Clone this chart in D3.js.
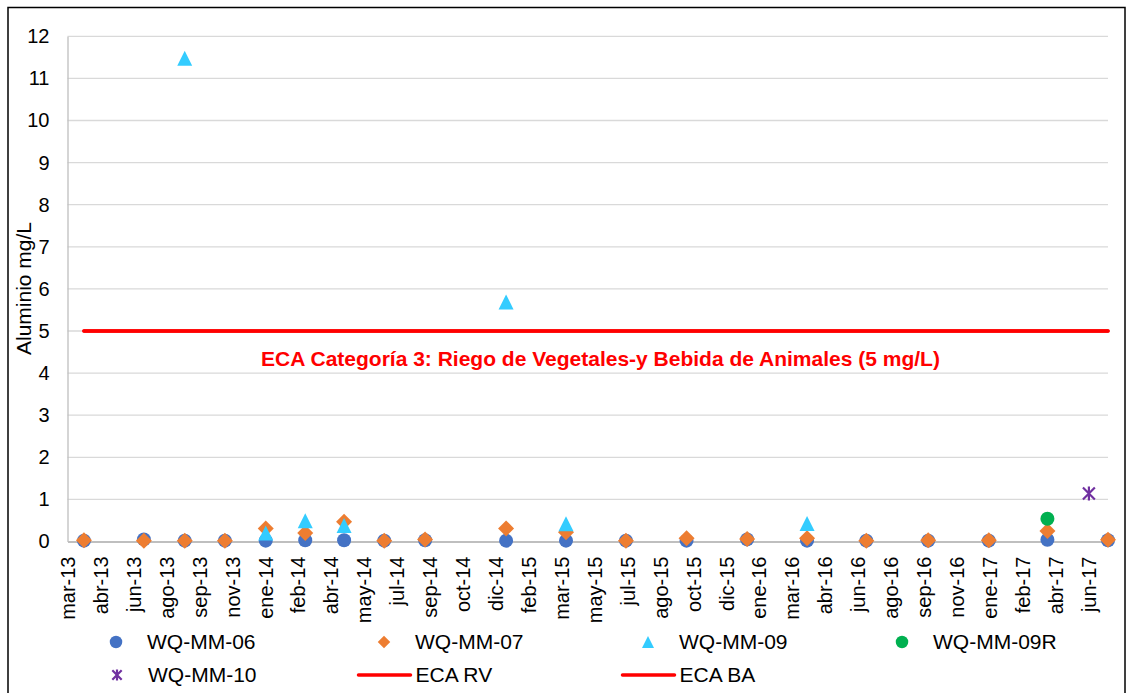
<!DOCTYPE html>
<html>
<head>
<meta charset="utf-8">
<script src="https://cdn.jsdelivr.net/npm/d3@7"></script>
<style>
  body { margin: 0; background: #fff; }
  svg { display: block; font-family: Arial, "Liberation Sans", sans-serif; }
  .grid line { stroke: #d9d9d9; stroke-width: 1.3; }
</style>
</head>
<body>
<div id="chart"></div>
<script>
// Sampling dates (x) and aluminium values in mg/L per station
const sampleDates = ['2013-04-01', '2013-07-01', '2013-09-01', '2013-11-01', '2014-01-02', '2014-03-03',
  '2014-05-01', '2014-07-01', '2014-09-01', '2015-01-02', '2015-04-03', '2015-07-03', '2015-10-03',
  '2016-01-03', '2016-04-03', '2016-07-02', '2016-10-04', '2017-01-04', '2017-04-03', '2017-06-05', '2017-07-04'];

const wq06 = [0.02, 0.05, 0.02, 0.02, 0.02, 0.03, 0.03, 0.02, 0.03, 0.02, 0.02, 0.02, 0.02, 0.05, 0.02, 0.02, 0.02, 0.02, 0.04, null, 0.03];
const wq07 = [0.03, 0.02, 0.02, 0.02, 0.31, 0.2, 0.47, 0.02, 0.05, 0.31, 0.22, 0.02, 0.08, 0.06, 0.08, 0.02, 0.03, 0.03, 0.25, null, 0.04];
const wq09 = [null, null, 11.48, null, 0.2, 0.49, 0.38, null, null, 5.69, 0.42, null, null, null, 0.43, null, null, null, null, null, null];
const wq09r = [null, null, null, null, null, null, null, null, null, null, null, null, null, null, null, null, null, null, 0.54, null, null];
const wq10 = [null, null, null, null, null, null, null, null, null, null, null, null, null, null, null, null, null, null, null, 1.14, null];

// ECA limit lines (both 5 mg/L)
const ecaDates = ['2013-04-01', '2017-07-04'];
const ecaRV = [5, 5];
const ecaBA = [5, 5];

const axisStart = '2013-03-07';
const axisEnd = '2017-07-04';
const tickStepDays = 50;
const yTicks = [0, 1, 2, 3, 4, 5, 6, 7, 8, 9, 10, 11, 12];
const mesesCortos = ['ene', 'feb', 'mar', 'abr', 'may', 'jun', 'jul', 'ago', 'sep', 'oct', 'nov', 'dic'];

const ecaLabel = 'ECA Categoría 3: Riego de Vegetales-y Bebida de Animales (5 mg/L)';
const yTitle = 'Aluminio mg/L';

const width = 1133, height = 693;
const parse = d3.timeParse('%Y-%m-%d');
const locale = d3.timeFormatLocale({
  dateTime: '%x %X', date: '%d/%m/%Y', time: '%H:%M:%S', periods: ['AM', 'PM'],
  days: ['domingo', 'lunes', 'martes', 'miércoles', 'jueves', 'viernes', 'sábado'],
  shortDays: ['dom', 'lun', 'mar', 'mié', 'jue', 'vie', 'sáb'],
  months: ['enero', 'febrero', 'marzo', 'abril', 'mayo', 'junio', 'julio', 'agosto', 'septiembre', 'octubre', 'noviembre', 'diciembre'],
  shortMonths: mesesCortos
});
const fmt = locale.format('%b-%y');

const svg = d3.select('#chart').append('svg')
  .attr('width', width)
  .attr('height', height);

// outer chart frame
svg.append('rect')
  .attr('x', 8).attr('y', 7.5)
  .attr('width', 1117).attr('height', 700)
  .attr('fill', '#fff')
  .attr('stroke', '#000')
  .attr('stroke-width', 1.5);

const x = d3.scaleTime()
  .domain([parse(axisStart), parse(axisEnd)])
  .range([67.5, 1108]);

const y = d3.scaleLinear()
  .domain([0, 12])
  .range([541.5, 36.3]);

// horizontal gridlines
svg.append('g').attr('class', 'grid')
  .selectAll('line')
  .data(yTicks.filter(d => d > 0))
  .enter().append('line')
  .attr('x1', x.range()[0]).attr('x2', x.range()[1])
  .attr('y1', d => y(d)).attr('y2', d => y(d));

// y axis
const yAxis = svg.append('g')
  .attr('transform', `translate(${x.range()[0]},0)`)
  .call(d3.axisLeft(y).tickValues(yTicks).tickSize(0).tickPadding(18));
yAxis.select('.domain').attr('stroke', '#bfbfbf').attr('stroke-width', 1.3);
yAxis.selectAll('text').attr('font-size', 20).attr('fill', '#000')
  .attr('font-family', 'Arial, "Liberation Sans", sans-serif');

// x axis (date axis, one label every 50 days)
const xTicks = d3.timeDay.range(parse(axisStart), d3.timeDay.offset(parse(axisEnd), 1), tickStepDays);
const xAxis = svg.append('g')
  .attr('transform', `translate(0,${y(0)})`)
  .call(d3.axisBottom(x).tickValues(xTicks).tickFormat(fmt).tickSize(0));
xAxis.select('.domain').attr('stroke', '#bfbfbf').attr('stroke-width', 2);
xAxis.selectAll('text')
  .attr('font-size', 20).attr('fill', '#000')
  .attr('font-family', 'Arial, "Liberation Sans", sans-serif')
  .attr('text-anchor', 'end')
  .attr('transform', 'translate(0,15) rotate(-90)')
  .attr('x', 0).attr('y', 0).attr('dy', '0.35em');

// y title
svg.append('text')
  .attr('transform', 'translate(31,288.5) rotate(-90)')
  .attr('text-anchor', 'middle')
  .attr('font-size', 21)
  .attr('fill', '#000')
  .text(yTitle);

// ECA lines
const ecaLine = d3.line()
  .x(d => x(d.date))
  .y(d => y(d.value));
[ecaRV, ecaBA].forEach(vals => {
  svg.append('path')
    .datum(ecaDates.map((d, i) => ({ date: parse(d), value: vals[i] })))
    .attr('d', ecaLine)
    .attr('fill', 'none')
    .attr('stroke', '#ff0000')
    .attr('stroke-width', 3.5)
    .attr('stroke-linecap', 'round');
});

svg.append('text')
  .attr('x', 600.5).attr('y', 366)
  .attr('text-anchor', 'middle')
  .attr('font-size', 21)
  .attr('font-weight', 'bold')
  .attr('fill', '#ff0000')
  .text(ecaLabel);

// marker shapes
function markerPath(shape, s) {
  const h = s / 2;
  if (shape === 'circle') return d3.symbol(d3.symbolCircle, Math.PI * h * h)();
  if (shape === 'diamond') return `M0,${-h}L${h},0L0,${h}L${-h},0Z`;
  if (shape === 'triangle') return `M0,${-h}L${h},${h}L${-h},${h}Z`;
  if (shape === 'star') {
    const k = h * 0.85;
    return `M${-k},${-k}L${k},${k}M${k},${-k}L${-k},${k}M0,${-h}L0,${h}`;
  }
}

const series = [
  { name: 'WQ-MM-06', values: wq06, shape: 'circle', color: '#4472c4', size: 14, legendSize: 12.5 },
  { name: 'WQ-MM-07', values: wq07, shape: 'diamond', color: '#ed7d31', size: 16, legendSize: 12.5 },
  { name: 'WQ-MM-09', values: wq09, shape: 'triangle', color: '#33ccff', size: 15, legendSize: 12 },
  { name: 'WQ-MM-09R', values: wq09r, shape: 'circle', color: '#00b050', size: 14, legendSize: 12.5 },
  { name: 'WQ-MM-10', values: wq10, shape: 'star', color: '#7030a0', size: 14, legendSize: 11 }
];

function drawMarker(sel, s, size) {
  sel.append('path')
    .attr('d', markerPath(s.shape, size))
    .attr('fill', s.shape === 'star' ? 'none' : s.color)
    .attr('stroke', s.shape === 'star' ? s.color : 'none')
    .attr('stroke-width', 2.2);
}

series.forEach(s => {
  const pts = sampleDates
    .map((d, i) => ({ date: parse(d), value: s.values[i] }))
    .filter(p => p.value !== null);
  const g = svg.append('g');
  pts.forEach(p => {
    const m = g.append('g').attr('transform', `translate(${x(p.date)},${y(p.value)})`);
    drawMarker(m, s, s.size);
  });
});

// legend
const legendItems = [
  { s: series[0], x: 116, y: 642 },
  { s: series[1], x: 384, y: 642 },
  { s: series[2], x: 648, y: 642 },
  { s: series[3], x: 902, y: 642 },
  { s: series[4], x: 117, y: 675 },
  { line: true, name: 'ECA RV', x: 384.5, y: 675 },
  { line: true, name: 'ECA BA', x: 648.5, y: 675 }
];

legendItems.forEach(it => {
  const g = svg.append('g').attr('transform', `translate(${it.x},${it.y})`);
  if (it.line) {
    g.append('line')
      .attr('x1', -26).attr('x2', 26)
      .attr('stroke', '#ff0000')
      .attr('stroke-width', 3.5)
      .attr('stroke-linecap', 'round');
    g.append('text')
      .attr('x', 31).attr('dy', '0.35em')
      .attr('font-size', 21).attr('fill', '#000')
      .text(it.name);
  } else {
    drawMarker(g, it.s, it.s.legendSize);
    g.append('text')
      .attr('x', 31).attr('dy', '0.35em')
      .attr('font-size', 21).attr('fill', '#000')
      .text(it.s.name);
  }
});
</script>
</body>
</html>
